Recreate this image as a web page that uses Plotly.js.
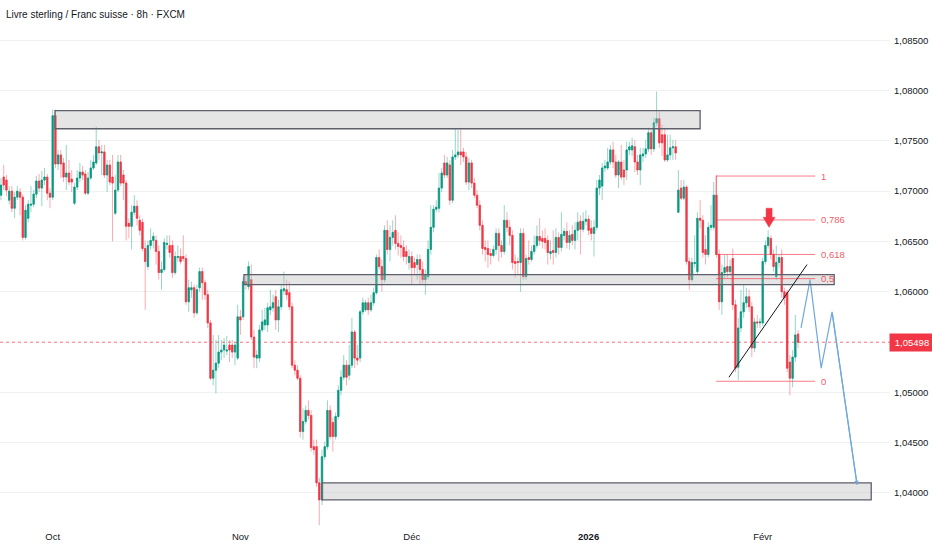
<!DOCTYPE html>
<html>
<head>
<meta charset="utf-8">
<script src="https://cdn.plot.ly/plotly-3.0.1.min.js"></script>
<style>
  html, body { margin: 0; padding: 0; background: #ffffff; }
  #chart { width: 932px; height: 550px; }
</style>
</head>
<body>
<div id="chart"></div>
<script>
// ---- Data (GBP/CHF, 8h candles) ----
const opens = [
1.0696,1.0714,1.0711,1.0691,1.0700,1.0683,1.0694,1.0699,1.0694,1.0654,
1.0673,1.0686,1.0687,1.0697,1.0710,1.0703,1.0711,1.0714,1.0698,1.0694,
1.0775,1.0727,1.0736,1.0728,1.0714,1.0718,1.0712,1.0688,1.0704,1.0713,
1.0719,1.0717,1.0698,1.0713,1.0723,1.0728,1.0744,1.0738,1.0739,1.0716,
1.0726,1.0714,1.0678,1.0701,1.0729,1.0716,1.0708,1.0668,1.0665,1.0679,1.0685,
1.0671,1.0669,1.0643,1.0625,1.0646,1.0651,
1.0651,1.0640,1.0619,1.0622,1.0647,1.0646,1.0646,1.0619,1.0634,1.0635,
1.0635,1.0633,1.0590,1.0602,1.0604,1.0579,1.0604,1.0620,1.0609,1.0597,1.0569,1.0514,1.0522,1.0529,1.0540,1.0542,
1.0541,1.0547,1.0547,1.0540,1.0534,1.0575,1.0575,1.0610,1.0605,
1.0612,1.0555,1.0534,1.0534,1.0562,1.0567,1.0567,1.0582,1.0584,1.0595,
1.0572,1.0585,1.0601,1.0602,1.0599,1.0585,1.0527,1.0522,1.0514,1.0461,
1.0471,1.0482,1.0477,1.0446,1.0446,1.0410,1.0393,1.0436,1.0446,1.0482,
1.0470,1.0456,1.0476,1.0502,1.0515,1.0527,1.0517,1.0527,1.0560,1.0534,
1.0534,1.0580,1.0582,1.0589,1.0582,1.0589,1.0599,1.0634,1.0625,1.0612,
1.0661,1.0642,1.0654,1.0661,1.0648,1.0646,1.0644,1.0640,1.0629,1.0635,
1.0629,1.0627,1.0632,1.0622,1.0612,1.0615,1.0642,1.0664,1.0682,1.0683,
1.0703,1.0728,1.0716,1.0726,1.0691,1.0734,1.0736,1.0739,1.0739,1.0734,
1.0709,1.0728,1.0708,1.0696,1.0686,1.0666,1.0644,
1.0643,1.0638,1.0636,1.0642,1.0658,1.0646,1.0640,1.0671,1.0664,1.0656,
1.0630,1.0630,1.0629,1.0658,1.0615,1.0634,1.0632,1.0640,1.0646,1.0655,
1.0653,1.0653,1.0651,1.0638,
1.0641,1.0639,1.0654,1.0644,1.0656,1.0660,1.0649,1.0657,1.0651,1.0661,
1.0670,1.0662,1.0670,1.0672,1.0663,1.0658,1.0664,1.0703,
1.0705,1.0723,1.0723,1.0729,1.0741,1.0729,1.0716,1.0729,1.0721,1.0721,
1.0741,1.0741,1.0744,1.0729,1.0721,1.0735,1.0737,1.0742,1.0758,1.0742,
1.0768,1.0772,1.0756,1.0756,1.0731,1.0736,1.0743,1.0744,1.0679,
1.0703,1.0693,1.0704,1.0630,1.0612,1.0628,1.0620,1.0673,1.0671,1.0642,
1.0637,1.0664,1.0664,1.0696,1.0637,
1.0590,1.0619,1.0625,1.0620,1.0633,1.0587,1.0525,1.0564,1.0580,1.0589,
1.0595,1.0585,1.0544,1.0570,1.0569,
1.0569,1.0630,1.0646,1.0653,1.0637,1.0615,1.0629,1.0634,1.0600,1.0599,1.0530,1.0514,1.0535,1.0558
];
const highs = [
1.0713,1.0726,1.0716,1.0705,1.0705,1.0699,1.0705,1.0703,1.0697,1.0686,
1.0691,1.0705,1.0701,1.0715,1.0717,1.0720,1.0723,1.0717,1.0703,1.0781,
1.0781,1.0741,1.0741,1.0733,1.0746,1.0731,1.0721,1.0708,1.0721,1.0728,
1.0725,1.0721,1.0719,1.0731,1.0736,1.0764,1.0751,1.0746,1.0746,1.0731,
1.0731,1.0736,1.0716,1.0736,1.0736,1.0721,1.0711,1.0673,1.0686,1.0696,1.0691,
1.0676,1.0673,1.0651,1.0651,1.0663,1.0659,
1.0656,1.0646,1.0630,1.0653,1.0656,1.0656,1.0651,1.0640,1.0646,1.0643,
1.0656,1.0637,1.0612,1.0610,1.0607,1.0607,1.0624,1.0624,1.0612,1.0602,1.0572,1.0557,1.0552,1.0557,1.0552,1.0554,
1.0556,1.0552,1.0552,1.0550,1.0587,1.0582,1.0614,1.0617,1.0630,
1.0627,1.0562,1.0542,1.0567,1.0582,1.0584,1.0589,1.0602,1.0597,1.0602,
1.0592,1.0607,1.0620,1.0612,1.0610,1.0589,1.0532,1.0527,1.0517,1.0484,
1.0487,1.0492,1.0482,1.0453,1.0453,1.0415,1.0443,1.0451,1.0492,1.0487,
1.0475,1.0480,1.0507,1.0522,1.0537,1.0532,1.0547,1.0574,1.0562,1.0547,
1.0582,1.0594,1.0592,1.0594,1.0597,1.0604,1.0637,1.0642,1.0632,1.0666,
1.0671,1.0666,1.0671,1.0676,1.0659,1.0656,1.0651,1.0646,1.0642,1.0640,
1.0634,1.0637,1.0637,1.0630,1.0622,1.0651,1.0686,1.0686,1.0691,1.0718,
1.0723,1.0736,1.0734,1.0731,1.0741,1.0763,1.0761,1.0763,1.0743,1.0739,
1.0733,1.0731,1.0713,1.0701,1.0691,1.0671,1.0651,
1.0651,1.0643,1.0646,1.0663,1.0663,1.0651,1.0686,1.0679,1.0671,1.0661,
1.0637,1.0634,1.0663,1.0663,1.0637,1.0651,1.0646,1.0656,1.0666,1.0673,
1.0661,1.0663,1.0656,1.0651,
1.0661,1.0663,1.0659,1.0679,1.0663,1.0669,1.0661,1.0666,1.0669,1.0679,
1.0676,1.0679,1.0681,1.0676,1.0671,1.0671,1.0711,1.0716,
1.0728,1.0731,1.0743,1.0746,1.0749,1.0736,1.0731,1.0746,1.0731,1.0749,
1.0749,1.0753,1.0751,1.0736,1.0743,1.0743,1.0751,1.0763,1.0761,1.0773,
1.0799,1.0779,1.0766,1.0763,1.0756,1.0756,1.0751,1.0751,1.0721,
1.0711,1.0711,1.0706,1.0634,1.0634,1.0656,1.0679,1.0691,1.0676,1.0656,
1.0669,1.0686,1.0709,1.0716,1.0642,
1.0627,1.0637,1.0637,1.0632,1.0643,1.0592,1.0574,1.0602,1.0607,1.0604,
1.0602,1.0590,1.0574,1.0577,1.0574,
1.0634,1.0651,1.0661,1.0656,1.0642,1.0646,1.0637,1.0642,1.0604,1.0602,1.0537,1.0542,1.0577,1.0562
];
const lows = [
1.0691,1.0701,1.0695,1.0687,1.0679,1.0673,1.0691,1.0676,1.0651,1.0652,
1.0669,1.0679,1.0684,1.0693,1.0699,1.0685,1.0706,1.0691,1.0683,1.0691,
1.0723,1.0721,1.0713,1.0709,1.0701,1.0706,1.0699,1.0686,1.0701,1.0709,
1.0711,1.0696,1.0696,1.0711,1.0721,1.0726,1.0731,1.0716,1.0713,1.0699,
1.0706,1.0650,1.0676,1.0699,1.0705,1.0691,1.0651,1.0653,1.0642,1.0676,1.0666,
1.0656,1.0640,1.0582,1.0622,1.0642,1.0643,
1.0627,1.0612,1.0602,1.0620,1.0642,1.0634,1.0614,1.0617,1.0630,1.0627,
1.0630,1.0587,1.0580,1.0594,1.0574,1.0577,1.0600,1.0592,1.0592,1.0564,1.0512,1.0507,1.0499,1.0524,1.0532,1.0534,
1.0537,1.0530,1.0534,1.0527,1.0532,1.0557,1.0572,1.0602,1.0602,
1.0552,1.0524,1.0524,1.0530,1.0560,1.0562,1.0560,1.0577,1.0580,1.0562,
1.0560,1.0582,1.0597,1.0592,1.0582,1.0524,1.0517,1.0512,1.0455,1.0453,
1.0468,1.0473,1.0441,1.0438,1.0406,1.0366,1.0388,1.0433,1.0443,1.0453,
1.0441,1.0453,1.0473,1.0497,1.0512,1.0507,1.0512,1.0524,1.0524,1.0527,
1.0530,1.0577,1.0580,1.0577,1.0580,1.0586,1.0597,1.0622,1.0600,1.0609,
1.0637,1.0630,1.0646,1.0642,1.0636,1.0634,1.0630,1.0627,1.0622,1.0607,
1.0617,1.0612,1.0607,1.0608,1.0597,1.0612,1.0637,1.0659,1.0679,1.0679,
1.0699,1.0713,1.0713,1.0686,1.0688,1.0731,1.0733,1.0726,1.0729,1.0706,
1.0701,1.0703,1.0693,1.0683,1.0661,1.0637,1.0630,
1.0624,1.0627,1.0634,1.0637,1.0630,1.0634,1.0637,1.0659,1.0646,1.0622,
1.0614,1.0617,1.0600,1.0612,1.0612,1.0627,1.0630,1.0637,1.0643,1.0646,
1.0643,1.0642,1.0627,1.0632,
1.0627,1.0634,1.0637,1.0640,1.0651,1.0643,1.0642,1.0646,1.0642,1.0651,
1.0637,1.0659,1.0666,1.0656,1.0651,1.0635,1.0661,1.0696,
1.0691,1.0719,1.0721,1.0726,1.0723,1.0713,1.0703,1.0711,1.0706,1.0711,
1.0736,1.0735,1.0719,1.0716,1.0706,1.0729,1.0733,1.0739,1.0736,1.0739,
1.0765,1.0743,1.0735,1.0729,1.0729,1.0731,1.0731,1.0731,1.0678,
1.0691,1.0691,1.0627,1.0602,1.0610,1.0624,1.0617,1.0663,1.0634,1.0627,
1.0634,1.0661,1.0661,1.0634,1.0582,
1.0577,1.0614,1.0614,1.0617,1.0582,1.0520,1.0512,1.0560,1.0574,1.0584,
1.0580,1.0535,1.0540,1.0564,1.0564,
1.0566,1.0627,1.0643,1.0632,1.0620,1.0612,1.0624,1.0594,1.0587,1.0520,1.0497,1.0505,1.0530,1.0544
];
const closes = [
1.0706,1.0706,1.0701,1.0700,1.0683,1.0694,1.0700,1.0694,1.0654,1.0681,
1.0687,1.0687,1.0697,1.0710,1.0703,1.0711,1.0714,1.0698,1.0694,1.0775,
1.0727,1.0736,1.0727,1.0714,1.0718,1.0709,1.0709,1.0704,1.0713,1.0719,
1.0716,1.0698,1.0713,1.0723,1.0729,1.0744,1.0738,1.0739,1.0716,1.0726,
1.0709,1.0708,1.0701,1.0729,1.0708,1.0708,1.0665,1.0665,1.0679,1.0685,1.0673,
1.0661,1.0643,1.0630,1.0646,1.0651,1.0655,
1.0640,1.0619,1.0622,1.0649,1.0648,1.0639,1.0619,1.0635,1.0635,1.0630,
1.0633,1.0590,1.0604,1.0604,1.0579,1.0602,1.0620,1.0609,1.0597,1.0569,1.0514,1.0522,1.0529,1.0540,1.0542,1.0547,
1.0542,1.0542,1.0540,1.0547,1.0575,1.0572,1.0610,1.0608,1.0625,
1.0555,1.0535,1.0537,1.0562,1.0570,1.0572,1.0584,1.0585,1.0589,1.0572,
1.0585,1.0602,1.0603,1.0597,1.0585,1.0527,1.0522,1.0514,1.0461,1.0471,
1.0482,1.0477,1.0445,1.0443,1.0410,1.0393,1.0436,1.0446,1.0482,1.0456,
1.0456,1.0476,1.0502,1.0515,1.0527,1.0515,1.0527,1.0560,1.0534,1.0532,
1.0580,1.0589,1.0589,1.0582,1.0589,1.0599,1.0634,1.0625,1.0612,1.0661,
1.0642,1.0654,1.0659,1.0648,1.0645,1.0644,1.0635,1.0635,1.0635,1.0624,
1.0624,1.0632,1.0622,1.0612,1.0617,1.0642,1.0664,1.0682,1.0684,1.0703,
1.0718,1.0716,1.0728,1.0691,1.0734,1.0736,1.0739,1.0736,1.0734,1.0709,
1.0728,1.0708,1.0696,1.0686,1.0666,1.0643,1.0642,
1.0637,1.0636,1.0642,1.0658,1.0646,1.0640,1.0671,1.0664,1.0656,1.0629,
1.0628,1.0629,1.0658,1.0615,1.0633,1.0632,1.0640,1.0646,1.0655,1.0651,
1.0650,1.0649,1.0639,1.0640,
1.0639,1.0654,1.0644,1.0657,1.0660,1.0649,1.0656,1.0651,1.0661,1.0669,
1.0662,1.0670,1.0672,1.0661,1.0658,1.0664,1.0703,1.0711,
1.0723,1.0725,1.0729,1.0741,1.0729,1.0716,1.0729,1.0714,1.0714,1.0741,
1.0744,1.0745,1.0729,1.0721,1.0736,1.0737,1.0742,1.0758,1.0742,1.0768,
1.0772,1.0748,1.0748,1.0731,1.0736,1.0743,1.0744,1.0738,1.0701,
1.0693,1.0704,1.0630,1.0612,1.0629,1.0629,1.0673,1.0671,1.0639,1.0637,
1.0664,1.0666,1.0696,1.0637,1.0590,
1.0619,1.0624,1.0620,1.0625,1.0587,1.0524,1.0564,1.0580,1.0589,1.0595,
1.0585,1.0544,1.0570,1.0569,1.0570,
1.0630,1.0646,1.0654,1.0637,1.0625,1.0629,1.0634,1.0600,1.0594,1.0524,1.0514,1.0535,1.0557,1.05498
];

// Time axis: candle index of the first candle of each month
const monthTickIdx  = [19, 88, 151, 216, 280];
const monthTickText = ['Oct', 'Nov', 'Déc', '<b>2026</b>', 'Févr'];
const priceTicks = [1.040, 1.045, 1.050, 1.060, 1.065, 1.070, 1.075, 1.080, 1.085];

// Drawings
const zones = [
  { x0: 19.85, x1: 257.0, y0: 1.0762, y1: 1.0780 },
  { x0: 89.3,  x1: 306.3, y0: 1.0607, y1: 1.0617 },
  { x0: 118.0, x1: 319.9, y0: 1.0393, y1: 1.0410 }
];
const fibHigh = 1.0715, fibLow = 1.0511;
const fibLevels = [1, 0.786, 0.618, 0.5, 0];
const fibLabels = ['1', '0,786', '0,618', '0,5', '0'];
const fibX0 = 262.9, fibX1 = 299.3, fibLabelX = 300.8;
const trendX = [267.6, 296.3], trendY = [1.0515, 1.0627];
const projX = [294.1, 297.4, 301.5, 305.5, 314.7];
const projY = [1.0564, 1.0612, 1.0524, 1.0580, 1.0408];
const arrowX = 282.35, arrowTop = 1.0683, arrowNeck = 1.0674, arrowTip = 1.0664;

// ---- Build ----
const xs = closes.map((_, i) => i);
const bodyHi = opens.map((o, i) => Math.max(o, closes[i]));
const bodyLo = opens.map((o, i) => Math.min(o, closes[i]));
const UP = '#089981', DN = '#f23645';
const FONT = '"Liberation Sans", Arial, sans-serif';

const wickTrace = {
  type: 'candlestick', x: xs, open: opens, high: highs, low: lows, close: closes,
  increasing: { line: { color: 'rgba(8,153,129,0.42)', width: 1 }, fillcolor: 'rgba(8,153,129,0.42)' },
  decreasing: { line: { color: 'rgba(242,54,69,0.42)', width: 1 }, fillcolor: 'rgba(242,54,69,0.42)' },
  whiskerwidth: 0, hoverinfo: 'skip', showlegend: false
};
const bodyTrace = {
  type: 'candlestick', x: xs, open: opens, high: bodyHi, low: bodyLo, close: closes,
  increasing: { line: { color: UP, width: 0.5 }, fillcolor: UP },
  decreasing: { line: { color: DN, width: 0.5 }, fillcolor: DN },
  whiskerwidth: 0, hoverinfo: 'skip', showlegend: false
};
const projTrace = {
  type: 'scatter', mode: 'lines', x: projX, y: projY,
  line: { color: '#6fa8dc', width: 1.2 }, hoverinfo: 'skip', showlegend: false
};

const shapes = [];
zones.forEach(z => shapes.push({
  type: 'rect', xref: 'x', yref: 'y', x0: z.x0, x1: z.x1, y0: z.y0, y1: z.y1,
  fillcolor: 'rgba(180,180,180,0.35)', line: { color: '#5d606b', width: 1.3 }, layer: 'above'
}));
const fibPrice = l => fibLow + l * (fibHigh - fibLow);
fibLevels.forEach(l => shapes.push({
  type: 'line', xref: 'x', yref: 'y', x0: fibX0, x1: fibX1, y0: fibPrice(l), y1: fibPrice(l),
  line: { color: 'rgba(242,54,69,0.65)', width: 1 }, layer: 'above'
}));
shapes.push({
  type: 'line', xref: 'x', yref: 'y', x0: fibX0, x1: fibX0, y0: fibPrice(1), y1: fibPrice(0.618),
  line: { color: 'rgba(242,54,69,0.65)', width: 1 }, layer: 'above'
});
shapes.push({
  type: 'line', xref: 'x', yref: 'y', x0: trendX[0], x1: trendX[1], y0: trendY[0], y1: trendY[1],
  line: { color: '#131722', width: 1 }, layer: 'above'
});
const lastClose = closes[closes.length - 1];
shapes.push({
  type: 'line', xref: 'paper', yref: 'y', x0: 0, x1: 1, y0: lastClose, y1: lastClose,
  line: { color: 'rgba(242,54,69,0.7)', width: 1, dash: 'dot' }, layer: 'below'
});
const aw = 1.1, hw = 2.2;
shapes.push({
  type: 'path', xref: 'x', yref: 'y', layer: 'above',
  path: `M ${arrowX-aw},${arrowTop} L ${arrowX+aw},${arrowTop} L ${arrowX+aw},${arrowNeck} L ${arrowX+hw},${arrowNeck} L ${arrowX},${arrowTip} L ${arrowX-hw},${arrowNeck} L ${arrowX-aw},${arrowNeck} Z`,
  fillcolor: DN, line: { color: DN, width: 0.5 }
});

const annotations = fibLevels.map((l, i) => ({
  xref: 'x', yref: 'y', x: fibLabelX, y: fibPrice(l), text: fibLabels[i],
  showarrow: false, xanchor: 'left', yanchor: 'middle',
  font: { family: FONT, size: 9.5, color: 'rgba(242,54,69,0.85)' }
}));
annotations.push({
  xref: 'paper', yref: 'y', x: 1.0245, y: lastClose, text: '1,05498',
  showarrow: false, xanchor: 'center', yanchor: 'middle', width: 42, height: 15,
  bgcolor: DN, font: { family: FONT, size: 9.5, color: '#ffffff' }
});
const n = projX.length;
annotations.push({
  xref: 'x', yref: 'y', axref: 'x', ayref: 'y',
  x: projX[n-1], y: projY[n-1], ax: projX[n-2], ay: projY[n-2],
  text: '', showarrow: true, arrowhead: 2, arrowsize: 0.7, arrowwidth: 1.2, arrowcolor: '#6fa8dc'
});

const layout = {
  width: 932, height: 550,
  margin: { l: 0, r: 42, t: 0, b: 25 },
  paper_bgcolor: '#ffffff', plot_bgcolor: '#ffffff',
  separators: ', ',
  boxgap: 0.25,
  showlegend: false,
  title: {
    text: 'Livre sterling / Franc suisse · 8h · FXCM',
    x: 6 / 932, xanchor: 'left', xref: 'container',
    y: 1 - 14 / 550, yanchor: 'middle', yref: 'container',
    font: { family: FONT, size: 10, color: '#131722' }
  },
  xaxis: {
    type: 'linear', range: [-0.37, 326.8],
    tickmode: 'array', tickvals: monthTickIdx, ticktext: monthTickText,
    showgrid: false, zeroline: false, showline: false, ticks: '',
    ticklabelstandoff: 4,
    tickfont: { family: FONT, size: 9.5, color: '#131722' },
    rangeslider: { visible: false }, fixedrange: true
  },
  yaxis: {
    side: 'right', range: [1.03681, 1.08900],
    tickmode: 'array', tickvals: priceTicks, tickformat: '.5f',
    showgrid: true, gridcolor: '#f0f1f3', gridwidth: 1,
    zeroline: false, showline: false, ticks: '',
    ticklabelstandoff: 3,
    tickfont: { family: FONT, size: 9.5, color: '#131722' },
    fixedrange: true
  },
  shapes: shapes,
  annotations: annotations
};

Plotly.newPlot('chart', [wickTrace, bodyTrace, projTrace], layout, { staticPlot: true, displayModeBar: false });
</script>
</body>
</html>
